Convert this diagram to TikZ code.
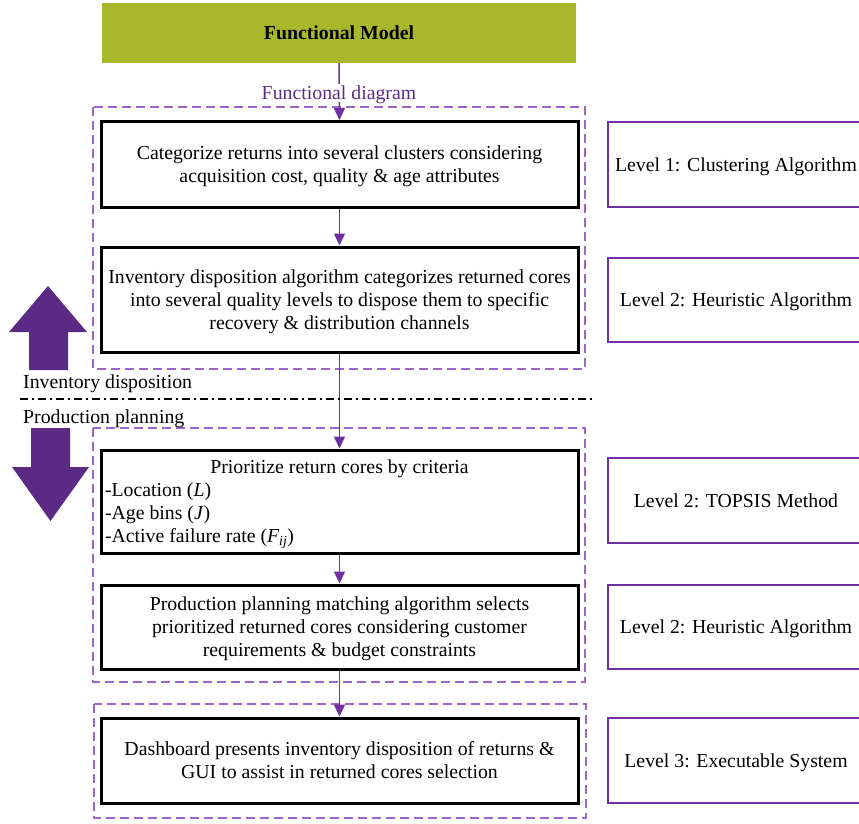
\documentclass[tikz,border=0pt]{standalone}
\usepackage{fontspec}
\setmainfont{Liberation Serif}
\usetikzlibrary{arrows.meta}

\definecolor{modelgreen}{HTML}{A8B82A}
\definecolor{linkpurple}{HTML}{7030A0}
\definecolor{framepurple}{HTML}{9A66C8}
\definecolor{bigpurple}{HTML}{5B2A84}
\definecolor{labelpurple}{HTML}{5B2C83}

\tikzset{
  basefont/.style={font=\fontsize{19.8}{23}\selectfont},
  modelbox/.style={basefont, fill=modelgreen, minimum width=474, minimum height=60, inner sep=0},
  mainbox/.style={basefont, draw=black, line width=3pt, minimum width=477, align=center, inner sep=4pt, text depth=0pt},
  levelbox/.style={basefont, draw=linkpurple, line width=1.5pt, minimum width=256, inner sep=4pt, text depth=0pt},
  groupframe/.style={draw=framepurple, line width=1.4pt, dash pattern=on 9pt off 5pt},
  link/.style={draw=linkpurple, line width=1.5pt, -{Triangle[length=12pt,width=11pt]}},
  bigarrow/.style={fill=bigpurple, draw=none},
  sidelabel/.style={basefont, inner sep=0, anchor=base west},
  divider/.style={draw=black, line width=1.5pt, dash pattern=on 8pt off 4pt on 2pt off 4pt}
}

\begin{document}
\begin{tikzpicture}[x=1pt,y=-1pt]
\useasboundingbox (0,0) rectangle (859,823);
\clip (0,0) rectangle (859,823);

% dashed group frames
\draw[groupframe] (93,107) rectangle (585,369);
\draw[groupframe] (93,428) rectangle (585,682);
\draw[groupframe] (94,704) rectangle (586,818);

% title block
\node[modelbox] (model) at (339,33) {\textbf{Functional Model}};

% process steps
\node[mainbox, minimum height=86] (cat) at (339.5,164.5)
  {Categorize returns into several clusters considering\\acquisition cost, quality \& age attributes};
\node[mainbox, minimum height=105] (inv) at (339.5,299.5)
  {Inventory disposition algorithm categorizes returned cores\\into several quality levels to dispose them to specific\\recovery \& distribution channels};
\node[mainbox, minimum height=103, align=left] (prio) at (339.5,501.5)
  {\makebox[469pt][c]{Prioritize return cores by criteria}\\-Location (\textit{L})\\-Age bins (\textit{J})\\-Active failure rate (\textit{F\textsubscript{ij}})};
\node[mainbox, minimum height=84] (plan) at (339.5,627)
  {Production planning matching algorithm selects\\prioritized returned cores considering customer\\requirements \& budget constraints};
\node[mainbox, minimum height=85] (dash) at (339.5,760.5)
  {Dashboard presents inventory disposition of returns \&\\GUI to assist in returned cores selection};

% level annotations
\node[levelbox, minimum height=85] (lv1) at (736,164.5) {Level 1: Clustering Algorithm};
\node[levelbox, minimum height=84] (lv2) at (736,300) {Level 2: Heuristic Algorithm};
\node[levelbox, minimum height=85] (lv3) at (736,500.5) {Level 2: TOPSIS Method};
\node[levelbox, minimum height=84] (lv4) at (736,627) {Level 2: Heuristic Algorithm};
\node[levelbox, minimum height=85] (lv5) at (736,760.5) {Level 3: Executable System};

% connectors
\draw[link] (model.south) -- (cat.north);
\node[basefont, fill=white, text=labelpurple, inner sep=2pt, text depth=0pt] (fd) at (339,93) {Functional diagram};
\draw[link] (cat.south) -- (inv.north);
\draw[link] (inv.south) -- (prio.north);
\draw[link] (prio.south) -- (plan.north);
\draw[link] (plan.south) -- (dash.north);

% phase divider and labels
\coordinate (divL) at (20,399);
\coordinate (divR) at (595,399);
\draw[divider] (divL) -- (divR);
\node[sidelabel] (invlbl) at (23,388) {Inventory disposition};
\node[sidelabel] (prodlbl) at (23,423) {Production planning};

% direction arrows
\fill[bigarrow] (29,370) -- (29,332) -- (9,332) -- (48,286) -- (87,332) -- (68,332) -- (68,370) -- cycle;
\fill[bigarrow] (31,428) -- (70,428) -- (70,467) -- (89,467) -- (50.5,521) -- (12,467) -- (31,467) -- cycle;
\end{tikzpicture}
\end{document}
